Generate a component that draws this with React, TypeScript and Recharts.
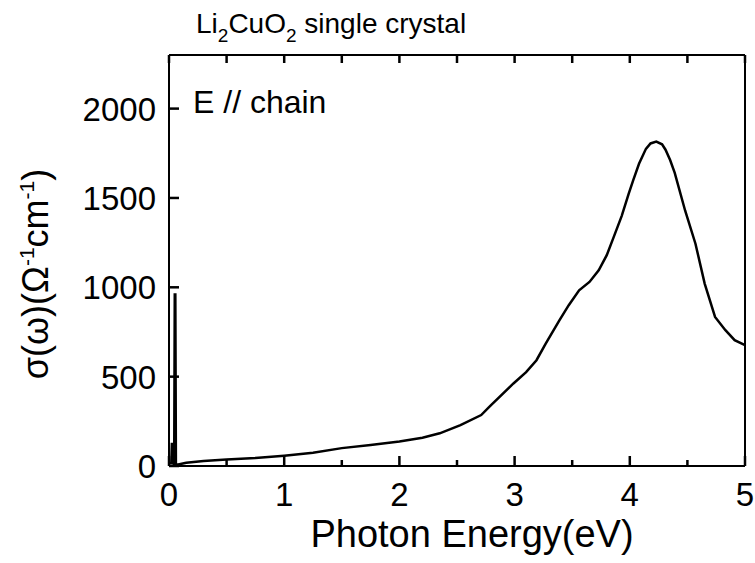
import React from "react";
import { LineChart, Line, XAxis, YAxis } from "recharts";

// photon energy (eV) and optical conductivity sigma(omega) (1/(ohm cm))
const energy = [
  0.0, 0.02, 0.025, 0.03, 0.045, 0.05, 0.055, 0.06, 0.08, 0.15, 0.3, 0.5, 0.75, 1.0, 1.25, 1.5,
  1.75, 2.0, 2.2, 2.35, 2.53, 2.71, 2.78, 2.99, 3.1, 3.19, 3.27, 3.39, 3.47, 3.56, 3.65, 3.73,
  3.8, 3.86, 3.93, 3.99, 4.03, 4.08, 4.14, 4.18, 4.23, 4.28, 4.31, 4.35, 4.39, 4.48, 4.57, 4.65,
  4.74, 4.83, 4.91, 5.0,
];
const sigma = [
  15, 15, 130, 15, 10, 960, 960, 10, 8, 18, 28, 36, 45, 58, 74, 100,
  118, 137, 158, 183, 229, 285, 331, 462, 525, 592, 685, 816, 900, 983, 1030, 1095,
  1180, 1281, 1400, 1523, 1600, 1691, 1775, 1805, 1815, 1800, 1770, 1712, 1640, 1430, 1244, 1021,
  834, 760, 704, 676,
];

const xTicks = [0, 0.5, 1, 1.5, 2, 2.5, 3, 3.5, 4, 4.5, 5];
const yTicks = [0, 500, 1000, 1500, 2000];

const data = energy.map((e, i) => ({ e, s: sigma[i] }));

const FONT = '"Liberation Sans", Arial, Helvetica, sans-serif';
const tickStyle = { stroke: "#000", strokeWidth: 2.5 };

// bottom axis: inward tick drawn here (major/minor), label only on whole eV
function BottomTick({ x, y, payload }: any) {
  const major = Number.isInteger(payload.value);
  return (
    <g>
      <line x1={x} y1={y} x2={x} y2={y - (major ? 10 : 6)} stroke="#000" strokeWidth={2.5} />
      {major && (
        <text x={x} y={y + 40} textAnchor="middle" fontSize={33} fontFamily={FONT} fill="#000">
          {payload.value}
        </text>
      )}
    </g>
  );
}

function LeftTick({ x, y, payload }: any) {
  return (
    <text x={x - 13} y={y + 12} textAnchor="end" fontSize={33} fontFamily={FONT} fill="#000">
      {payload.value}
    </text>
  );
}

function NoLabel() {
  return <g />;
}

function YTitle() {
  const cx = 48;
  const cy = 274;
  return (
    <text
      x={cx}
      y={cy}
      transform={`rotate(-90, ${cx}, ${cy})`}
      textAnchor="middle"
      fontSize={36}
      fontFamily={FONT}
      fill="#000"
    >
      σ(ω)(Ω
      <tspan fontSize={21} dy={-14}>-1</tspan>
      <tspan dy={14}>cm</tspan>
      <tspan fontSize={21} dy={-14}>-1</tspan>
      <tspan dy={14}>)</tspan>
    </text>
  );
}

function XTitle() {
  return (
    <text x={472} y={547} textAnchor="middle" fontSize={38} fontFamily={FONT} fill="#000">
      Photon Energy(eV)
    </text>
  );
}

function TopTitle() {
  return (
    <g>
      <text x={196} y={33} fontSize={28} fontFamily={FONT} fill="#000">
        Li
        <tspan fontSize={19} dy={9}>2</tspan>
        <tspan dy={-9}>CuO</tspan>
        <tspan fontSize={19} dy={9}>2</tspan>
        <tspan dy={-9}> single crystal</tspan>
      </text>
      <text x={193} y={113} fontSize={32} fontFamily={FONT} fill="#000">
        E // chain
      </text>
    </g>
  );
}

export default function App() {
  return (
    <div style={{ position: "absolute", left: 0, top: 0, background: "#fff" }}>
      <LineChart width={755} height={563} data={data} margin={{ top: 54, right: 9, bottom: 0, left: 0 }}>
        <XAxis
          xAxisId="bottom"
          dataKey="e"
          type="number"
          domain={[0, 5]}
          ticks={xTicks}
          interval={0}
          height={97}
          tickSize={0}
          tickMargin={0}
          tick={<BottomTick />}
          tickLine={false}
          axisLine={{ stroke: "#000", strokeWidth: 2 }}
          label={{ content: <XTitle /> }}
        />
        <XAxis
          xAxisId="top"
          orientation="top"
          dataKey="e"
          type="number"
          domain={[0, 5]}
          ticks={xTicks}
          interval={0}
          height={1}
          tickSize={-8}
          tickMargin={8}
          tick={<NoLabel />}
          tickLine={tickStyle}
          axisLine={{ stroke: "#000", strokeWidth: 2 }}
          label={{ content: <TopTitle /> }}
        />
        <YAxis
          yAxisId="left"
          domain={[0, 2300]}
          ticks={yTicks}
          interval={0}
          width={169}
          tickSize={-10}
          tickMargin={10}
          tick={<LeftTick />}
          tickLine={tickStyle}
          axisLine={{ stroke: "#000", strokeWidth: 2 }}
          label={{ content: <YTitle /> }}
        />
        <YAxis
          yAxisId="right"
          orientation="right"
          domain={[0, 2300]}
          ticks={yTicks}
          interval={0}
          width={1}
          tickSize={-10}
          tickMargin={10}
          tick={<NoLabel />}
          tickLine={tickStyle}
          axisLine={{ stroke: "#000", strokeWidth: 2 }}
        />
        <Line
          xAxisId="bottom"
          yAxisId="left"
          dataKey="s"
          type="linear"
          stroke="#000"
          strokeWidth={2.5}
          dot={false}
          isAnimationActive={false}
        />
      </LineChart>
    </div>
  );
}
